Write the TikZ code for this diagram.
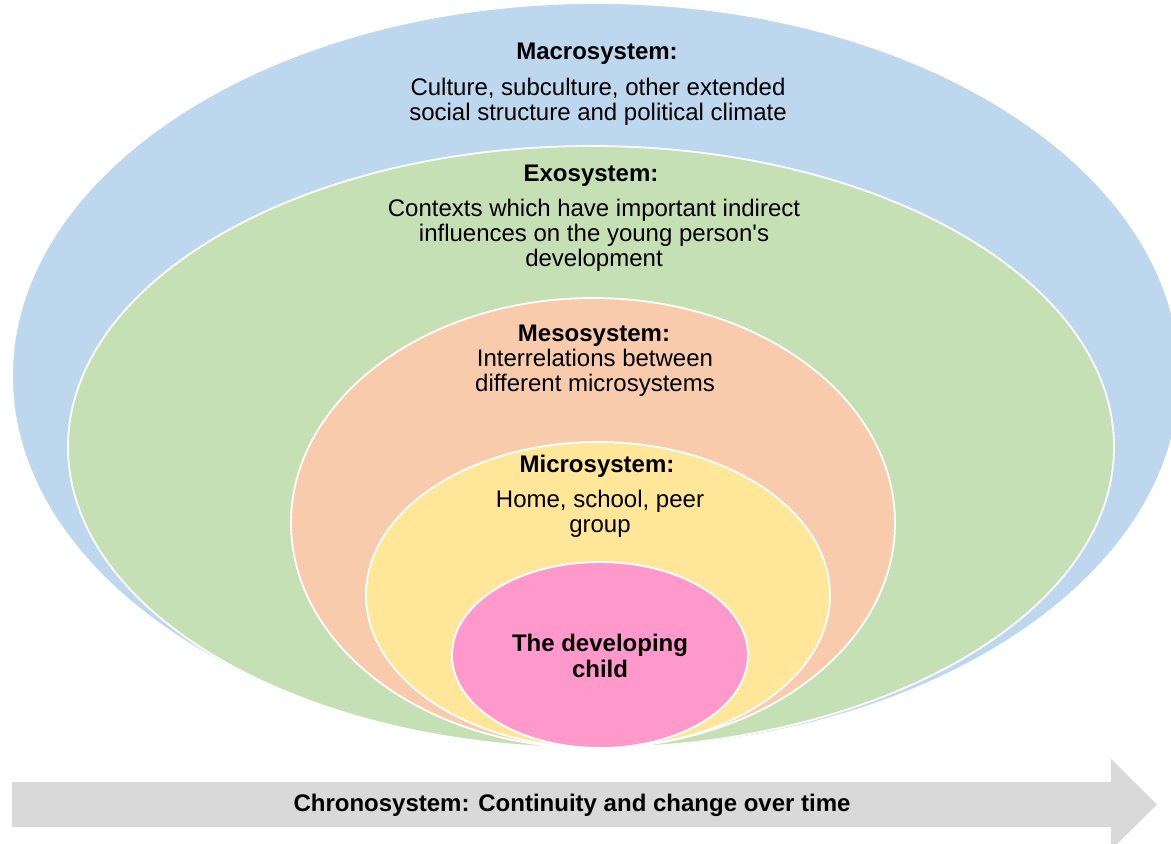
\documentclass[tikz,border=0pt]{standalone}
\usepackage{fontspec}
\setmainfont{Liberation Sans}
\usepackage{xcolor}
\usepackage{tikz}
\usetikzlibrary{shapes.geometric}

\definecolor{macroblue}{HTML}{BDD7EE}
\definecolor{exogreen}{HTML}{C5E0B4}
\definecolor{mesosalmon}{HTML}{F8CBAD}
\definecolor{microyellow}{HTML}{FFE699}
\definecolor{childpink}{HTML}{FF99CC}
\definecolor{chronogray}{HTML}{D9D9D9}

\begin{document}
\begin{tikzpicture}[
  x=0.5pt, y=-0.5pt,
  ring/.style={ellipse, draw=white, line width=0.9pt, inner sep=0pt},
  heading/.style={font=\fontsize{12}{12.6}\selectfont\bfseries, align=center, inner sep=0pt},
  desc/.style={font=\fontsize{12}{12.6}\selectfont, align=center, inner sep=0pt}
]
  \useasboundingbox (0,0) rectangle (1171,843);

  % Nested systems
  \node[ring, fill=macroblue, minimum width=584pt, minimum height=373pt] (macro) at (596,376) {};
  \node[ring, fill=exogreen, minimum width=523pt, minimum height=301pt] (exo) at (591,447) {};
  \node[ring, fill=mesosalmon, minimum width=302pt, minimum height=225pt] (meso) at (593,523) {};
  \node[ring, fill=microyellow, minimum width=232pt, minimum height=153pt] (micro) at (598,595) {};
  \node[ring, fill=childpink, minimum width=148pt, minimum height=93pt] (child) at (600,655) {};

  % Labels
  \node[heading] (macrotitle) at (597,54) {Macrosystem:};
  \node[desc] (macrotext) at (598,102) {Culture, subculture, other extended\\social structure and political climate};
  \node[heading] (exotitle) at (591,176) {Exosystem:};
  \node[desc] (exotext) at (594,235) {Contexts which have important indirect\\influences on the young person\textquotesingle s\\development};
  \node[heading] (mesotitle) at (594,336) {Mesosystem:};
  \node[desc] (mesotext) at (595,373) {Interrelations between\\different microsystems};
  \node[heading] (microtitle) at (597,466) {Microsystem:};
  \node[desc] (microtext) at (600,514) {Home, school, peer\\group};
  \node[heading] (childtext) at (600,656) {The developing\\child};

  % Time arrow
  \fill[chronogray] (12,782) -- (1111,782) -- (1111,759) -- (1157,804.5) -- (1111,850) -- (1111,827) -- (12,827) -- cycle;
  \node[heading] (chrono) at (572,805) {Chronosystem: Continuity and change over time};
\end{tikzpicture}
\end{document}
